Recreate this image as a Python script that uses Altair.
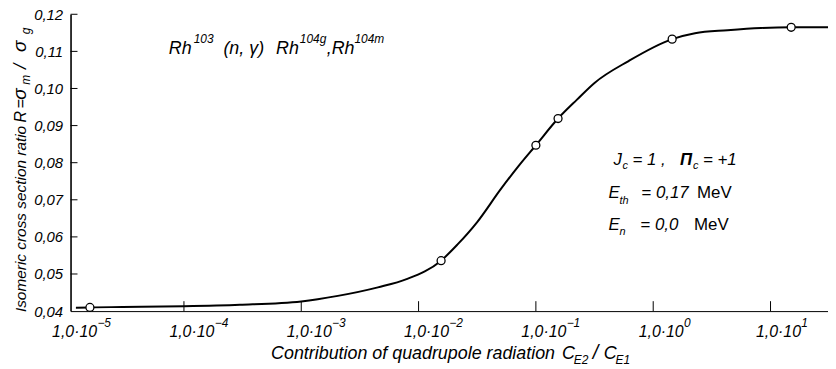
import altair as alt
import pandas as pd

# ---------------- data ----------------
curve_x = [1.2e-5, 1.58e-5, 3.0e-5, 1.0e-4, 3.0e-4, 1.0e-3, 2.05e-3, 4.5e-3, 7.9e-3,
           0.01556, 0.0214, 0.0316, 0.050, 0.0708, 0.100, 0.1545, 0.224, 0.316,
           0.617, 1.45, 2.27, 4.3, 8.3, 15.0, 31.0]
curve_y = [0.0409, 0.0410, 0.0411, 0.0413, 0.0417, 0.0426, 0.0441, 0.0464, 0.0486,
           0.0536, 0.0579, 0.0640, 0.0728, 0.0790, 0.0847, 0.0919, 0.0970, 0.1015,
           0.1074, 0.1133, 0.1149, 0.1157, 0.1163, 0.1165, 0.1165]

point_x = [1.58e-5, 0.01556, 0.100, 0.1545, 1.45, 15.0]
point_y = [0.0410, 0.0536, 0.0847, 0.0919, 0.1133, 0.1165]

x_tick_values = [1e-5, 1e-4, 1e-3, 1e-2, 1e-1, 1.0, 10.0]
x_tick_base = ["1,0·10"] * 7
x_tick_exp = ["−5", "−4", "−3", "−2", "−1", "0", "1"]
x_tick_marks = [1e-4, 1e-3, 1e-2, 1e-1, 1.0, 10.0]

y_tick_values = [0.04, 0.05, 0.06, 0.07, 0.08, 0.09, 0.10, 0.11, 0.12]

# ---------------- layout ----------------
W, H = 763, 299
LEFT, TOP = 71, 13          # page coordinates of the plot origin
FONT = "Liberation Sans"

xscale = alt.Scale(type="log", domain=[1.08e-5, 30.9], nice=False)
yscale = alt.Scale(domain=[0.04, 0.12], nice=False, zero=False)

x_axis = alt.Axis(title=None, labels=False, ticks=False, grid=False,
                  domainColor="black", domainWidth=1)
y_axis = alt.Axis(title=None, ticks=False, grid=False, values=y_tick_values,
                  labelExpr="replace(format(datum.value, '.2f'), '.', ',')",
                  labelFont=FONT, labelFontSize=15, labelFontStyle="italic",
                  labelColor="black", labelPadding=8,
                  domainColor="black", domainWidth=1.6)

curve_df = pd.DataFrame({"x": curve_x, "y": curve_y})
pts_df = pd.DataFrame({"x": point_x, "y": point_y})
xt_df = pd.DataFrame({"x": x_tick_values, "base": x_tick_base, "exp": x_tick_exp})
xm_df = pd.DataFrame({"x": x_tick_marks})
ym_df = pd.DataFrame({"y": y_tick_values[1:]})

X = alt.X("x:Q", scale=xscale, axis=x_axis)
Y = alt.Y("y:Q", scale=yscale, axis=y_axis)

curve = alt.Chart(curve_df).mark_line(color="black", strokeWidth=2, interpolate="monotone").encode(
    x=X, y=Y)

points = alt.Chart(pts_df).mark_point(shape="circle", filled=True, fill="white", stroke="black",
                                      strokeWidth=1.3, size=64, opacity=1).encode(x=X, y=Y)

xticks = alt.Chart(xm_df).mark_rule(color="black", strokeWidth=1).encode(
    x=X, y=alt.value(H), y2=alt.value(H - 10))
yticks = alt.Chart(ym_df).mark_rule(color="black", strokeWidth=1).encode(
    y=Y, x=alt.value(0), x2=alt.value(7))

xlab = alt.Chart(xt_df).mark_text(font=FONT, fontSize=16, fontStyle="italic", align="center",
                                  baseline="alphabetic", dx=8, color="black").encode(
    x=X, y=alt.value(338 - TOP), text="base:N")
xexp = alt.Chart(xt_df).mark_text(font=FONT, fontSize=12, fontStyle="italic", align="left",
                                  baseline="alphabetic", dx=31, color="black").encode(
    x=X, y=alt.value(328 - TOP), text="exp:N")

# text pieces: (text, page x, page baseline y, size, style, weight)
pieces = [
    ("Rh", 170, 53, 18, "italic", "normal"),
    ("103", 195, 42, 12, "italic", "normal"),
    ("(n, γ)", 225, 53, 18, "italic", "normal"),
    ("Rh", 278, 53, 18, "italic", "normal"),
    ("104g", 302, 42, 12, "italic", "normal"),
    (",Rh", 329, 53, 18, "italic", "normal"),
    ("104m", 357, 42, 12, "italic", "normal"),

    ("J", 618, 165, 17, "italic", "normal"),
    ("c", 627, 169, 11, "italic", "normal"),
    ("= 1 ,", 637, 165, 17, "italic", "normal"),
    ("Π", 685, 165, 17, "italic", "bold"),
    ("c", 698, 169, 11, "italic", "normal"),
    ("= +1", 708, 165, 17, "italic", "normal"),

    ("E", 613, 198, 17, "italic", "normal"),
    ("th", 624, 204, 11, "italic", "normal"),
    ("= 0,17", 646, 198, 17, "italic", "normal"),
    ("MeV", 702, 198, 17, "normal", "normal"),

    ("E", 613, 230, 17, "italic", "normal"),
    ("n", 624, 235, 11, "italic", "normal"),
    ("= 0,0", 645, 230, 17, "italic", "normal"),
    ("MeV", 699, 230, 17, "normal", "normal"),

    ("Contribution of quadrupole radiation", 273, 360, 18, "italic", "normal"),
    ("C", 566, 360, 18, "italic", "normal"),
    ("E2", 578, 365, 12, "italic", "normal"),
    ("/", 597, 360, 20, "italic", "normal"),
    ("C", 608, 360, 18, "italic", "normal"),
    ("E1", 620, 365, 12, "italic", "normal"),
]

# rotated y-axis title pieces: (text, page x of baseline, page y where text starts, size)
ypieces = [
    ("Isomeric cross section ratio", 26, 313, 15.5),
    ("R", 26, 122, 16),
    ("=", 26, 108, 16),
    ("σ", 26, 99, 19),
    ("m", 30, 84, 12),
    ("/", 26, 68, 19),
    ("σ", 26, 51, 19),
    ("g", 30, 33, 12),
]

layers = [curve, xticks, yticks, points, xlab, xexp]
for t, px, py, sz, st, wt in pieces:
    layers.append(
        alt.Chart(pd.DataFrame({"t": [t]})).mark_text(
            font=FONT, fontSize=sz, fontStyle=st, fontWeight=wt, align="left",
            baseline="alphabetic", color="black").encode(
            text="t:N", x=alt.value(px - LEFT), y=alt.value(py - TOP)))
for t, px, py, sz in ypieces:
    layers.append(
        alt.Chart(pd.DataFrame({"t": [t]})).mark_text(
            font=FONT, fontSize=sz, fontStyle="italic", align="left", angle=270,
            baseline="alphabetic", color="black").encode(
            text="t:N", x=alt.value(px - LEFT), y=alt.value(py - TOP)))

chart = alt.layer(*layers).properties(
    width=W, height=H,
    autosize=alt.AutoSizeParams(type="none"),
    padding={"left": 63, "top": 5, "right": 0, "bottom": 57},
    background="white",
).configure_view(stroke=None)

chart.save("out.html", embed_options={"renderer": "svg", "actions": False})
